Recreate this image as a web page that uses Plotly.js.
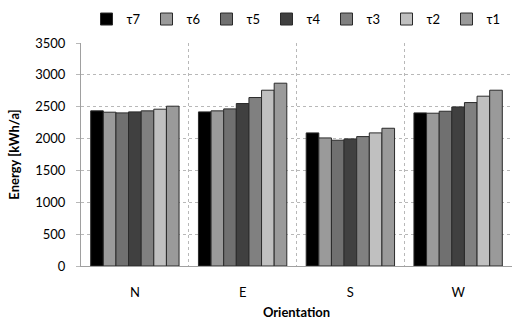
<!DOCTYPE html>
<html>
<head>
<meta charset="utf-8">
<script src="https://cdn.plot.ly/plotly-3.0.1.min.js"></script>
<style>html,body{margin:0;padding:0;background:#fff;}#chart{width:513px;height:320px;}</style>
</head>
<body>
<div id="chart"></div>
<script>
const categories = ["N", "E", "S", "W"];
const seriesNames = ["τ7", "τ6", "τ5", "τ4", "τ3", "τ2", "τ1"];
const tau7 = [2435, 2419, 2089, 2403];
const tau6 = [2414, 2435, 2010, 2398];
const tau5 = [2403, 2466, 1974, 2429];
const tau4 = [2419, 2550, 1995, 2497];
const tau3 = [2435, 2644, 2031, 2565];
const tau2 = [2461, 2759, 2089, 2665];
const tau1 = [2508, 2869, 2162, 2759];
const seriesValues = [tau7, tau6, tau5, tau4, tau3, tau2, tau1];
const seriesColors = ["#000000", "#9a9a9a", "#707070", "#404040", "#808080", "#c0c0c0", "#9a9a9a"];

const font = "Lato, 'Open Sans', sans-serif";
const traces = seriesNames.map((name, i) => ({
  type: "bar",
  name: name,
  x: categories,
  y: seriesValues[i],
  marker: {color: seriesColors[i], line: {color: "#2a2a2a", width: 1}}
}));

const layout = {
  width: 513, height: 320,
  margin: {l: 81, r: 1, t: 43, b: 54},
  paper_bgcolor: "#fff", plot_bgcolor: "#fff",
  barmode: "group", bargap: 0.18, bargroupgap: 0,
  font: {family: font, size: 12, color: "#000"},
  showlegend: true,
  legend: {orientation: "h", x: 0.5, xanchor: "center", y: 1.04, yanchor: "bottom",
           font: {family: font, size: 13}, itemwidth: 30, tracegroupgap: 0,
           entrywidth: 15, entrywidthmode: "pixels",
           traceorder: "normal", itemclick: false},
  xaxis: {
    tickson: "boundaries", showgrid: true, gridcolor: "#b8b8b8", griddash: "dot", gridwidth: 1,
    showline: true, linecolor: "#a0a0a0", linewidth: 1, mirror: false,
    ticks: "", tickfont: {family: font, size: 13},
    title: {text: "Orientation", font: {family: font, size: 13, weight: "bold"}, standoff: 9},
    ticklabelstandoff: 14
  },
  yaxis: {
    range: [0, 3500], dtick: 500, tick0: 0,
    showgrid: true, gridcolor: "#b8b8b8", griddash: "dot", gridwidth: 1,
    showline: true, linecolor: "#a0a0a0", linewidth: 1,
    ticks: "outside", ticklen: 4, tickcolor: "#b8b8b8",
    tickfont: {family: font, size: 13},
    ticklabelstandoff: 8,
    zeroline: false,
    title: {text: "Energy [kWh/a]", font: {family: font, size: 13, weight: "bold"}, standoff: 12}
  }
};

Plotly.newPlot("chart", traces, layout, {staticPlot: true, displayModeBar: false});
</script>
</body>
</html>
